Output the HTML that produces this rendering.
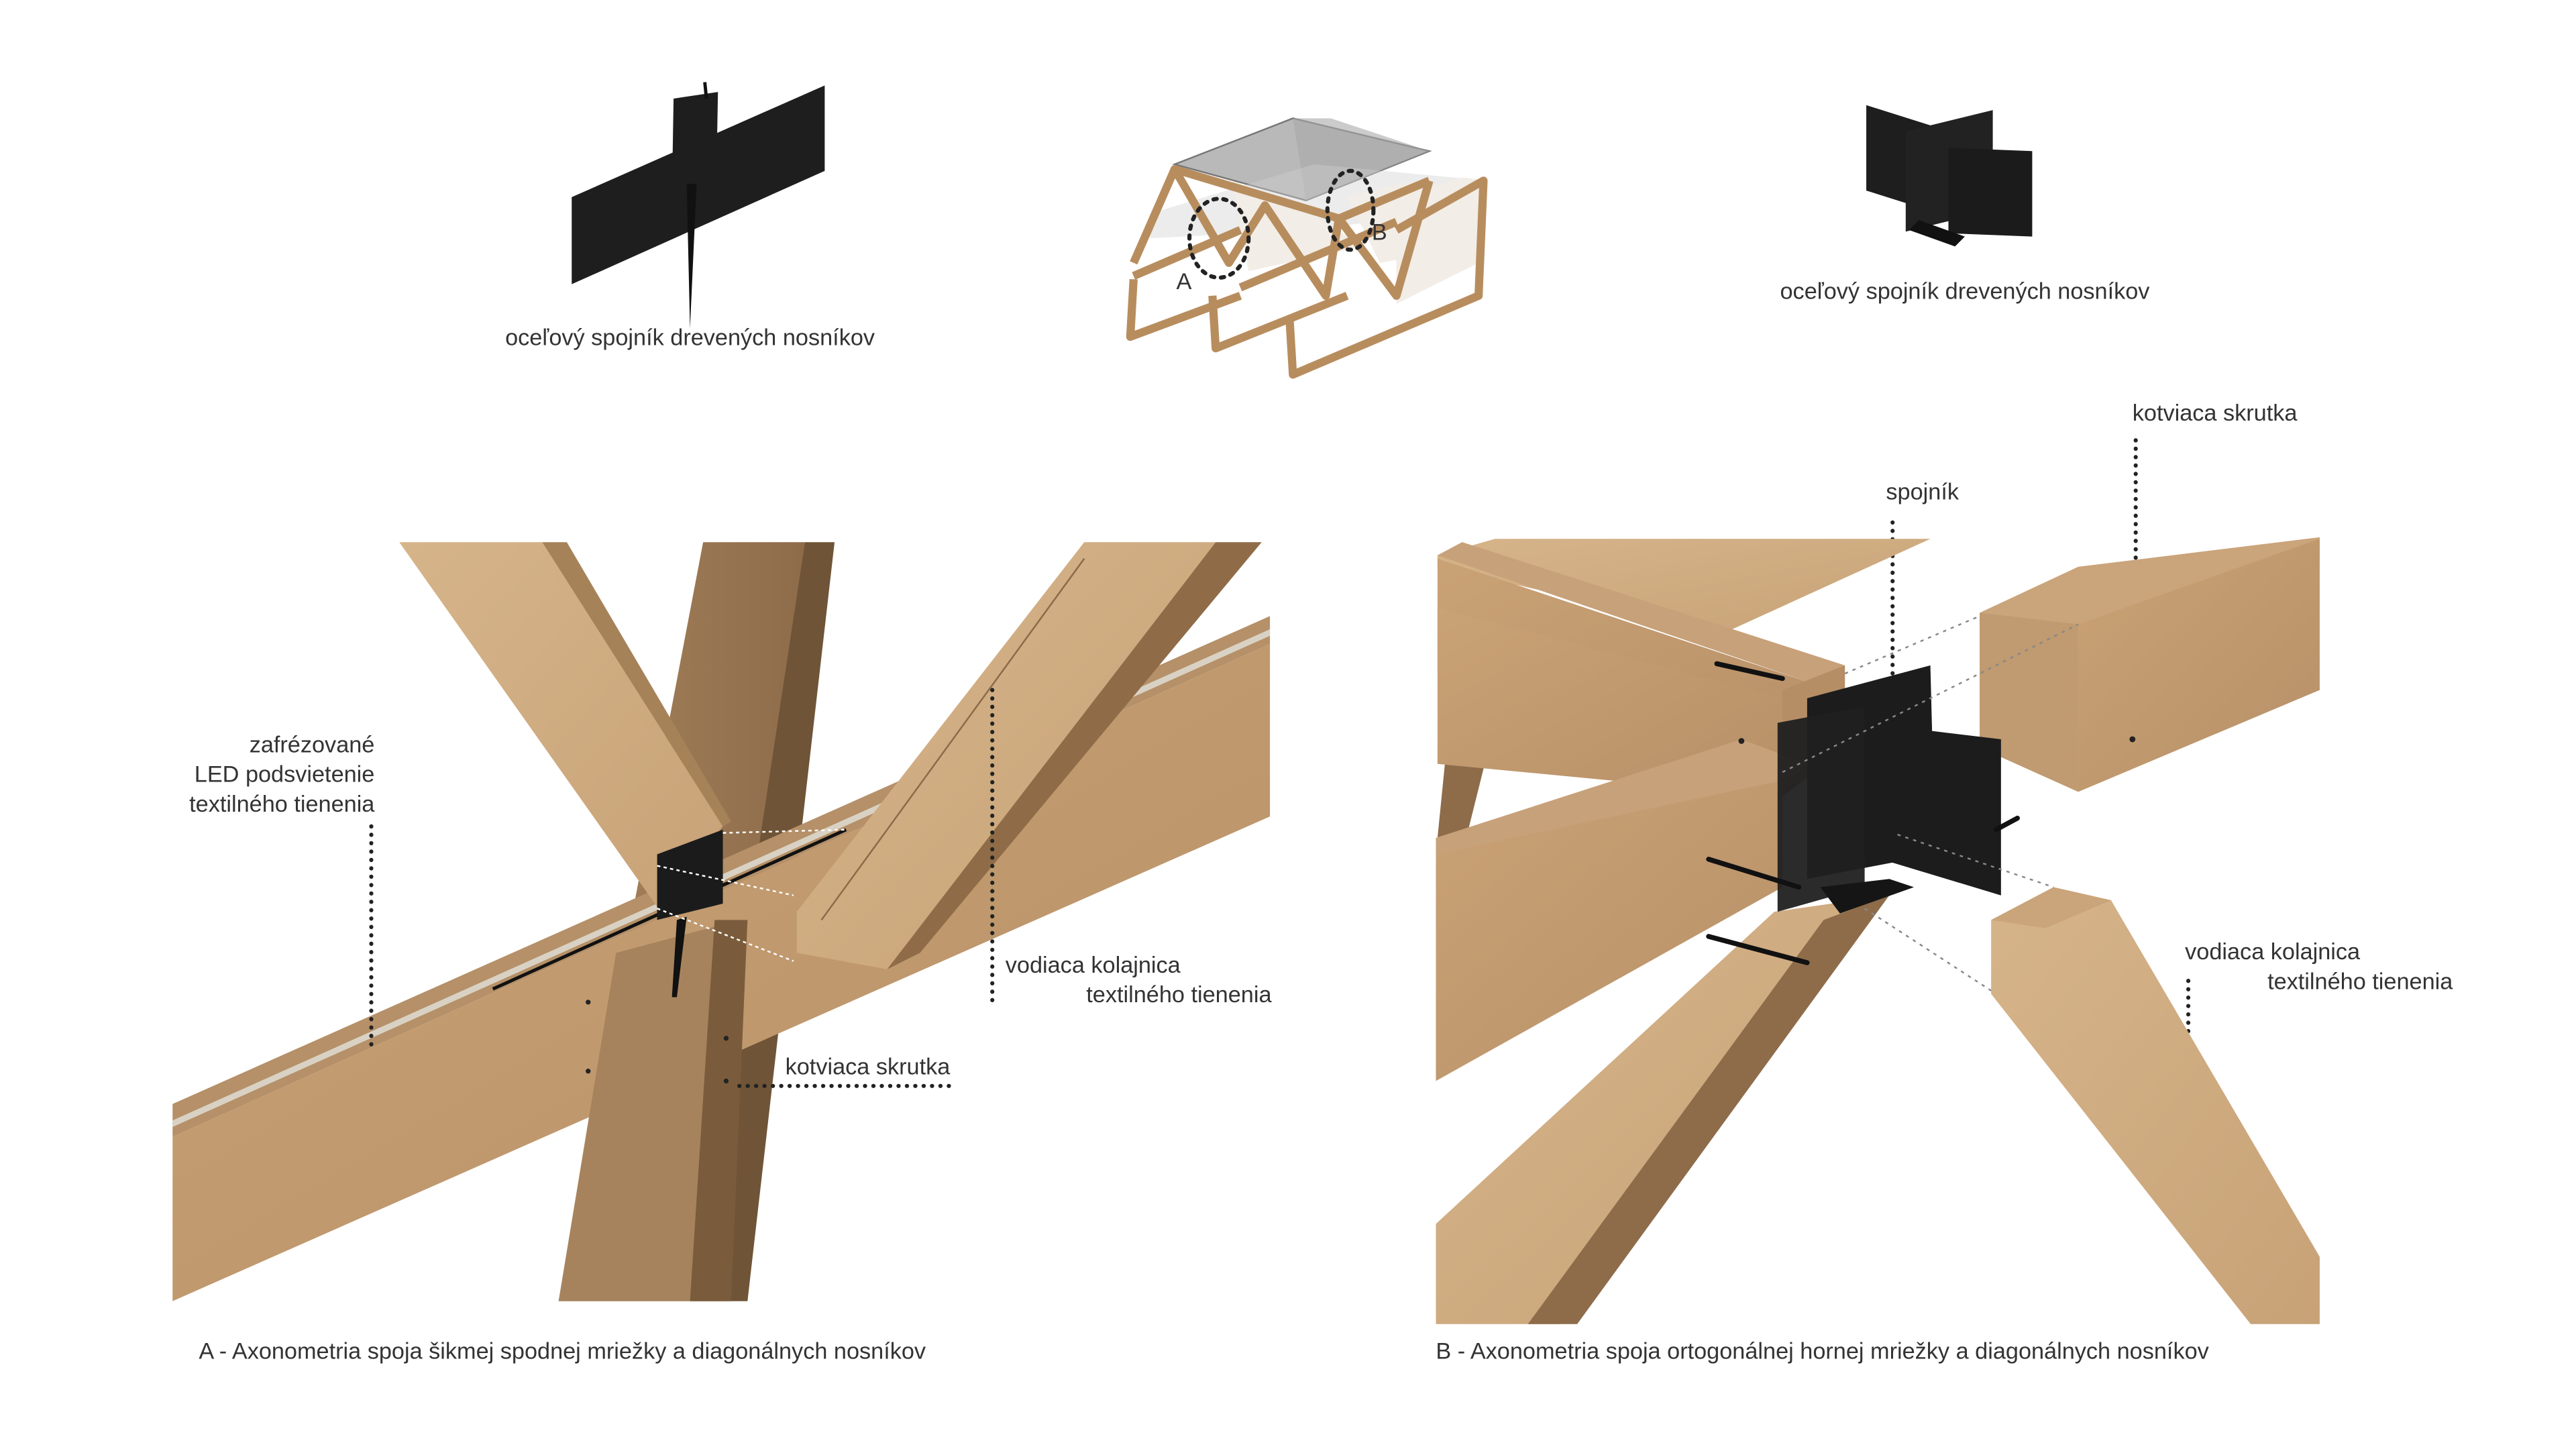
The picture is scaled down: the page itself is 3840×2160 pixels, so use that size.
<!DOCTYPE html>
<html><head><meta charset="utf-8"><style>
html,body{margin:0;padding:0;background:#fff;}
svg{display:block;}
text{font-family:"Liberation Sans",sans-serif;fill:#333;font-size:14px;}
</style></head><body>
<svg width="3840" height="2160" viewBox="0 0 1568 882" xmlns="http://www.w3.org/2000/svg">
<rect width="1568" height="882" fill="#fff"/>
<!-- top left connector -->
<polygon points="348,120 502,52 502,104 348,173" fill="#1e1e1e"/>
<polygon points="410,60 437,56 436,113 409,120" fill="#1e1e1e"/>
<polygon points="418,112 424,112 420,200" fill="#111"/>
<line x1="429" y1="50" x2="430" y2="60" stroke="#111" stroke-width="2"/>
<text x="420" y="210" text-anchor="middle">oceľový spojník drevených nosníkov</text>
<!-- top right connector -->
<polygon points="1136,64 1212,88 1212,140 1136,116" fill="#1e1e1e"/>
<polygon points="1160,80 1213,67 1213,128 1160,141" fill="#222"/>
<polygon points="1186,90 1237,92 1237,144 1186,142" fill="#1b1b1b"/>
<polygon points="1162,140 1190,150 1196,144 1168,134" fill="#111"/>
<text x="1196" y="182" text-anchor="middle">oceľový spojník drevených nosníkov</text>
<!-- small model -->
<g>
<polygon points="715,100 787,72 870,92 795,122" fill="#b9b9b9" stroke="#777" stroke-width="1"/>
<polygon points="787,72 810,72 870,92 795,122" fill="#a9a9a9" opacity=".6"/>
<polygon points="700,130 800,100 905,110 905,125 800,140 700,145" fill="#cfcfcf" opacity=".4"/>
<polygon points="750,110 790,125 830,150 760,165" fill="#f2ede6"/>
<polygon points="820,120 860,110 895,150 840,160" fill="#f2ede6"/>
<polygon points="850,120 890,108 905,110 900,160 850,185" fill="#f2ede6"/>
<g fill="none" stroke="#b88d5e" stroke-width="5" stroke-linejoin="round">
<polyline points="715,103 815,133 870,110"/>
<polyline points="690,160 715,103 748,160 770,125 807,180 815,133 850,180 870,110"/>
<polyline points="690,168 755,140"/>
<polyline points="690,170 688,205 755,180"/>
<polyline points="738,180 740,212 820,180"/>
<polyline points="785,195 787,228 900,180 903,110 850,140"/>
<polyline points="755,175 850,135"/>
</g>
<g fill="none" stroke="#222" stroke-width="2.5" stroke-dasharray="2 4" stroke-linecap="round">
<ellipse cx="742" cy="145" rx="18" ry="24"/>
<ellipse cx="822" cy="128" rx="14" ry="24"/>
</g>
<text x="716" y="176" font-size="13">A</text>
<text x="835" y="146" font-size="13">B</text>
</g>

<!-- ===== Panel A ===== -->
<defs>
<linearGradient id="wl" x1="0" y1="0" x2="1" y2="1"><stop offset="0" stop-color="#d6b48a"/><stop offset="1" stop-color="#c8a277"/></linearGradient>
<linearGradient id="wm" x1="0" y1="0" x2="1" y2="1"><stop offset="0" stop-color="#c9a275"/><stop offset="1" stop-color="#b89068"/></linearGradient>
<linearGradient id="wd" x1="0" y1="0" x2="1" y2="0"><stop offset="0" stop-color="#a7835d"/><stop offset="1" stop-color="#8e6c4a"/></linearGradient>
<clipPath id="ca"><rect x="105" y="330" width="670" height="463"/></clipPath>
<clipPath id="cb"><rect x="874" y="326" width="538" height="480"/></clipPath>
</defs>
<g clip-path="url(#ca)">
<polygon points="428,330 490,330 445,792 340,792" fill="url(#wd)"/>
<polygon points="490,330 508,330 455,792 420,792" fill="#6f5437"/>
<polygon points="105,672 773,375 773,392 105,692" fill="#b59068"/>
<polygon points="105,682 773,383 773,387 105,686" fill="#d9d2c4"/>
<polygon points="105,692 773,392 773,497 105,792" fill="url(#wm)"/>
<polygon points="375,580 450,560 440,792 340,792" fill="#a7835d"/>
<polygon points="435,560 455,560 445,792 420,792" fill="#7a5c3c"/>
<polygon points="243,330 330,330 440,503 400,552" fill="url(#wl)"/>
<polygon points="330,330 345,330 445,500 440,503" fill="#a68259"/>
<polygon points="660,330 740,330 540,590 485,580 485,555" fill="url(#wl)"/>
<polygon points="740,330 768,330 560,580 540,590" fill="#8f6c47"/>
<line x1="660" y1="340" x2="500" y2="560" stroke="#8a6a48" stroke-width="1"/>
<line x1="300" y1="602" x2="515" y2="505" stroke="#111" stroke-width="2"/>
<polygon points="400,520 440,505 440,550 400,560" fill="#1b1b1b"/>
<polygon points="412,560 418,558 412,607 409,607" fill="#111"/>
<g stroke="#fff" stroke-width="1" stroke-dasharray="2 2" fill="none">
<line x1="440" y1="507" x2="515" y2="505"/><line x1="400" y1="527" x2="483" y2="545"/><line x1="400" y1="553" x2="483" y2="585"/>
</g>
<circle cx="358" cy="610" r="1.5" fill="#222"/><circle cx="358" cy="652" r="1.5" fill="#222"/>
<circle cx="442" cy="632" r="1.5" fill="#222"/><circle cx="442" cy="658" r="1.5" fill="#222"/>
</g>
<g fill="none" stroke="#222" stroke-width="2.5" stroke-dasharray="0.1 5" stroke-linecap="round">
<line x1="226" y1="503" x2="226" y2="640"/>
<line x1="604" y1="420" x2="604" y2="610"/>
<line x1="450" y1="661" x2="580" y2="661"/>
<line x1="1300" y1="268" x2="1300" y2="402"/>
<line x1="1152" y1="318" x2="1152" y2="413"/>
<line x1="1332" y1="597" x2="1332" y2="730"/>
</g>
<text x="228" y="458" text-anchor="end">zafrézované</text>
<text x="228" y="476" text-anchor="end">LED podsvietenie</text>
<text x="228" y="494" text-anchor="end">textilného tienenia</text>
<text x="612" y="592">vodiaca kolajnica</text>
<text x="774" y="610" text-anchor="end">textilného tienenia</text>
<text x="478" y="654">kotviaca skrutka</text>
<text x="121" y="827">A - Axonometria spoja šikmej spodnej mriežky a diagonálnych nosníkov</text>

<!-- ===== Panel B ===== -->
<g clip-path="url(#cb)">
<polygon points="910,328 1175,328 1050,385 875,345 875,338" fill="url(#wl)"/>
<polygon points="880,460 905,460 890,520 874,520" fill="#8e6c4a"/>
<polygon points="1080,555 1150,545 950,806 874,806 874,745" fill="url(#wl)"/>
<polygon points="1110,560 1150,545 960,806 930,806" fill="#8e6c4a"/>
<polygon points="875,338 890,330 1123,405 1100,415" fill="#c7a179"/>
<polygon points="875,340 1100,415 1085,468 875,410" fill="url(#wm)"/>
<polygon points="875,370 1085,425 1085,485 875,465" fill="url(#wm)"/>
<polygon points="1085,420 1123,405 1123,455 1085,485" fill="#b58e65"/>
<polygon points="874,510 1060,450 1100,465 1085,478 874,545" fill="#c7a179"/>
<polygon points="874,520 1085,475 1085,540 874,658" fill="url(#wm)"/>
<polygon points="1205,373 1265,345 1412,327 1412,343 1265,380 1205,380" fill="#caa47a"/>
<polygon points="1205,373 1265,380 1265,482 1205,455" fill="#c09a70"/>
<polygon points="1265,380 1412,328 1412,420 1265,482" fill="url(#wm)"/>
<polygon points="1212,560 1250,540 1285,548 1412,765 1412,806 1370,806 1212,605" fill="url(#wl)"/>
<polygon points="1212,560 1250,540 1285,548 1245,565" fill="#caa47a"/>
<polygon points="1100,425 1175,405 1178,520 1100,535" fill="#1c1c1c"/>
<polygon points="1082,440 1135,430 1135,540 1082,555" fill="#202020" opacity=".95"/>
<polygon points="1135,440 1218,450 1218,545 1135,520" fill="#1c1c1c"/>
<polygon points="1108,540 1150,535 1165,540 1120,556" fill="#151515"/>
<g stroke="#111" stroke-width="3" stroke-linecap="round">
<line x1="1045" y1="404" x2="1085" y2="413"/>
<line x1="1040" y1="523" x2="1095" y2="540"/>
<line x1="1040" y1="570" x2="1100" y2="586"/>
<line x1="1215" y1="505" x2="1228" y2="498"/>
</g>
<g stroke="#888" stroke-width="1" stroke-dasharray="2 3" fill="none">
<line x1="1123" y1="410" x2="1205" y2="375"/>
<line x1="1085" y1="470" x2="1265" y2="380"/>
<line x1="1155" y1="508" x2="1250" y2="540"/>
<line x1="1135" y1="553" x2="1212" y2="603"/>
</g>
<circle cx="1060" cy="451" r="1.8" fill="#222"/>
<circle cx="1298" cy="450" r="1.8" fill="#222"/>
</g>
<text x="1148" y="304">spojník</text>
<text x="1298" y="256">kotviaca skrutka</text>
<text x="1330" y="584">vodiaca kolajnica</text>
<text x="1493" y="602" text-anchor="end">textilného tienenia</text>
<text x="874" y="827">B - Axonometria spoja ortogonálnej hornej mriežky a diagonálnych nosníkov</text>
</svg>
</body></html>
